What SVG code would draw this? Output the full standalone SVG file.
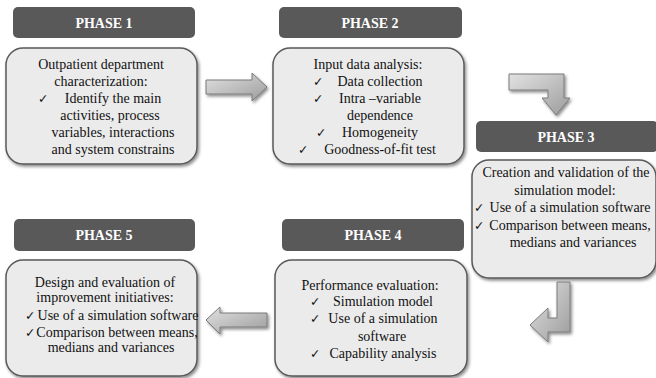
<svg xmlns="http://www.w3.org/2000/svg" width="656" height="378" viewBox="0 0 656 378">
<defs>
<filter id="sh" x="-10%" y="-10%" width="125%" height="130%">
<feDropShadow dx="1.5" dy="2" stdDeviation="1.5" flood-color="#000" flood-opacity="0.45"/>
</filter>
<linearGradient id="ag" x1="0" y1="0" x2="1" y2="1">
<stop offset="0" stop-color="#e2e2e2"/>
<stop offset="1" stop-color="#9c9c9c"/>
</linearGradient>
<style>
.hd{fill:#595959}
.bx{fill:#ebebeb;stroke:#5a5a5a;stroke-width:1.5;filter:url(#sh)}
.ht{font-family:"Liberation Serif","Times New Roman",serif;font-weight:bold;font-size:14px;fill:#fff;text-anchor:middle}
.t{font-family:"Liberation Serif","Times New Roman",serif;font-size:14px;fill:#111;text-anchor:middle}
.ck{font-family:"DejaVu Sans",sans-serif;font-size:12.5px;fill:#111}
.ar{fill:url(#ag);stroke:#7a7a7a;stroke-width:1;filter:url(#sh)}
</style>
</defs>
<rect width="656" height="378" fill="#fff"/>

<g id="phase1">
<rect class="hd" x="13" y="7" width="182" height="31" rx="5"/>
<text class="ht" x="104" y="28">PHASE 1</text>
<rect class="bx" x="6" y="48" width="191" height="116" rx="17"/>
<text class="t" x="101" y="69">Outpatient department</text>
<text class="t" x="101" y="86">characterization:</text>
<text class="ck" x="38" y="103">✓</text>
<text class="t" x="113" y="103">Identify the main</text>
<text class="t" x="110" y="120">activities, process</text>
<text class="t" x="113" y="137">variables, interactions</text>
<text class="t" x="113" y="154">and system constrains</text>
</g>

<g id="phase2">
<rect class="hd" x="279" y="7" width="183" height="31" rx="5"/>
<text class="ht" x="370" y="28">PHASE 2</text>
<rect class="bx" x="273" y="48" width="191" height="116" rx="17"/>
<text class="t" x="368" y="69">Input data analysis:</text>
<text class="ck" x="313" y="86">✓</text>
<text class="t" x="380" y="86">Data collection</text>
<text class="ck" x="313" y="103">✓</text>
<text class="t" x="380" y="103">Intra –variable</text>
<text class="t" x="380" y="120">dependence</text>
<text class="ck" x="316" y="137">✓</text>
<text class="t" x="380" y="137">Homogeneity</text>
<text class="ck" x="298" y="154">✓</text>
<text class="t" x="380" y="154">Goodness-of-fit test</text>
</g>

<g id="phase3">
<rect class="hd" x="476" y="121" width="182" height="31" rx="5"/>
<text class="ht" x="566" y="142">PHASE 3</text>
<rect class="bx" x="472" y="160" width="184" height="118" rx="17"/>
<text class="t" x="566" y="177">Creation and validation of the</text>
<text class="t" x="565" y="195">simulation model:</text>
<text class="ck" x="474" y="212">✓</text>
<text class="t" x="570" y="212">Use of a simulation software</text>
<text class="ck" x="474" y="230">✓</text>
<text class="t" x="570" y="230">Comparison between means,</text>
<text class="t" x="573" y="247">medians and variances</text>
</g>

<g id="phase4">
<rect class="hd" x="282" y="219" width="182" height="32" rx="5"/>
<text class="ht" x="373" y="240">PHASE 4</text>
<rect class="bx" x="275" y="260" width="192" height="116" rx="17"/>
<text class="t" x="370" y="290">Performance evaluation:</text>
<text class="ck" x="310" y="306">✓</text>
<text class="t" x="383" y="306">Simulation model</text>
<text class="ck" x="310" y="323">✓</text>
<text class="t" x="383" y="323">Use of a simulation</text>
<text class="t" x="382" y="341">software</text>
<text class="ck" x="310" y="358">✓</text>
<text class="t" x="383" y="358">Capability analysis</text>
</g>

<g id="phase5">
<rect class="hd" x="14" y="219" width="181" height="32" rx="5"/>
<text class="ht" x="104" y="240">PHASE 5</text>
<rect class="bx" x="6" y="260" width="191" height="116" rx="17"/>
<text class="t" x="105" y="287">Design and evaluation of</text>
<text class="t" x="105" y="302">improvement initiatives:</text>
<text class="ck" x="25" y="320">✓</text>
<text class="t" x="118" y="320">Use of a simulation software</text>
<text class="ck" x="25" y="337">✓</text>
<text class="t" x="117" y="337">Comparison between means,</text>
<text class="t" x="111" y="352">medians and variances</text>
</g>

<g id="connectors">
<path class="ar" d="M206,80 H252 V73 L267,87 L252,101 V94 H206 Z"/>
<path class="ar" d="M509,74 H564 V98 H570 L556,115 L542,98 H548 V90 H509 Z"/>
<path class="ar" d="M557,282 H570 V332 H548 V342 L530,325 L548,308 V318 H557 Z"/>
<path class="ar" d="M267,313 H220 V307 L206,320 L220,334 V327 H267 Z"/>
</g>
</svg>
